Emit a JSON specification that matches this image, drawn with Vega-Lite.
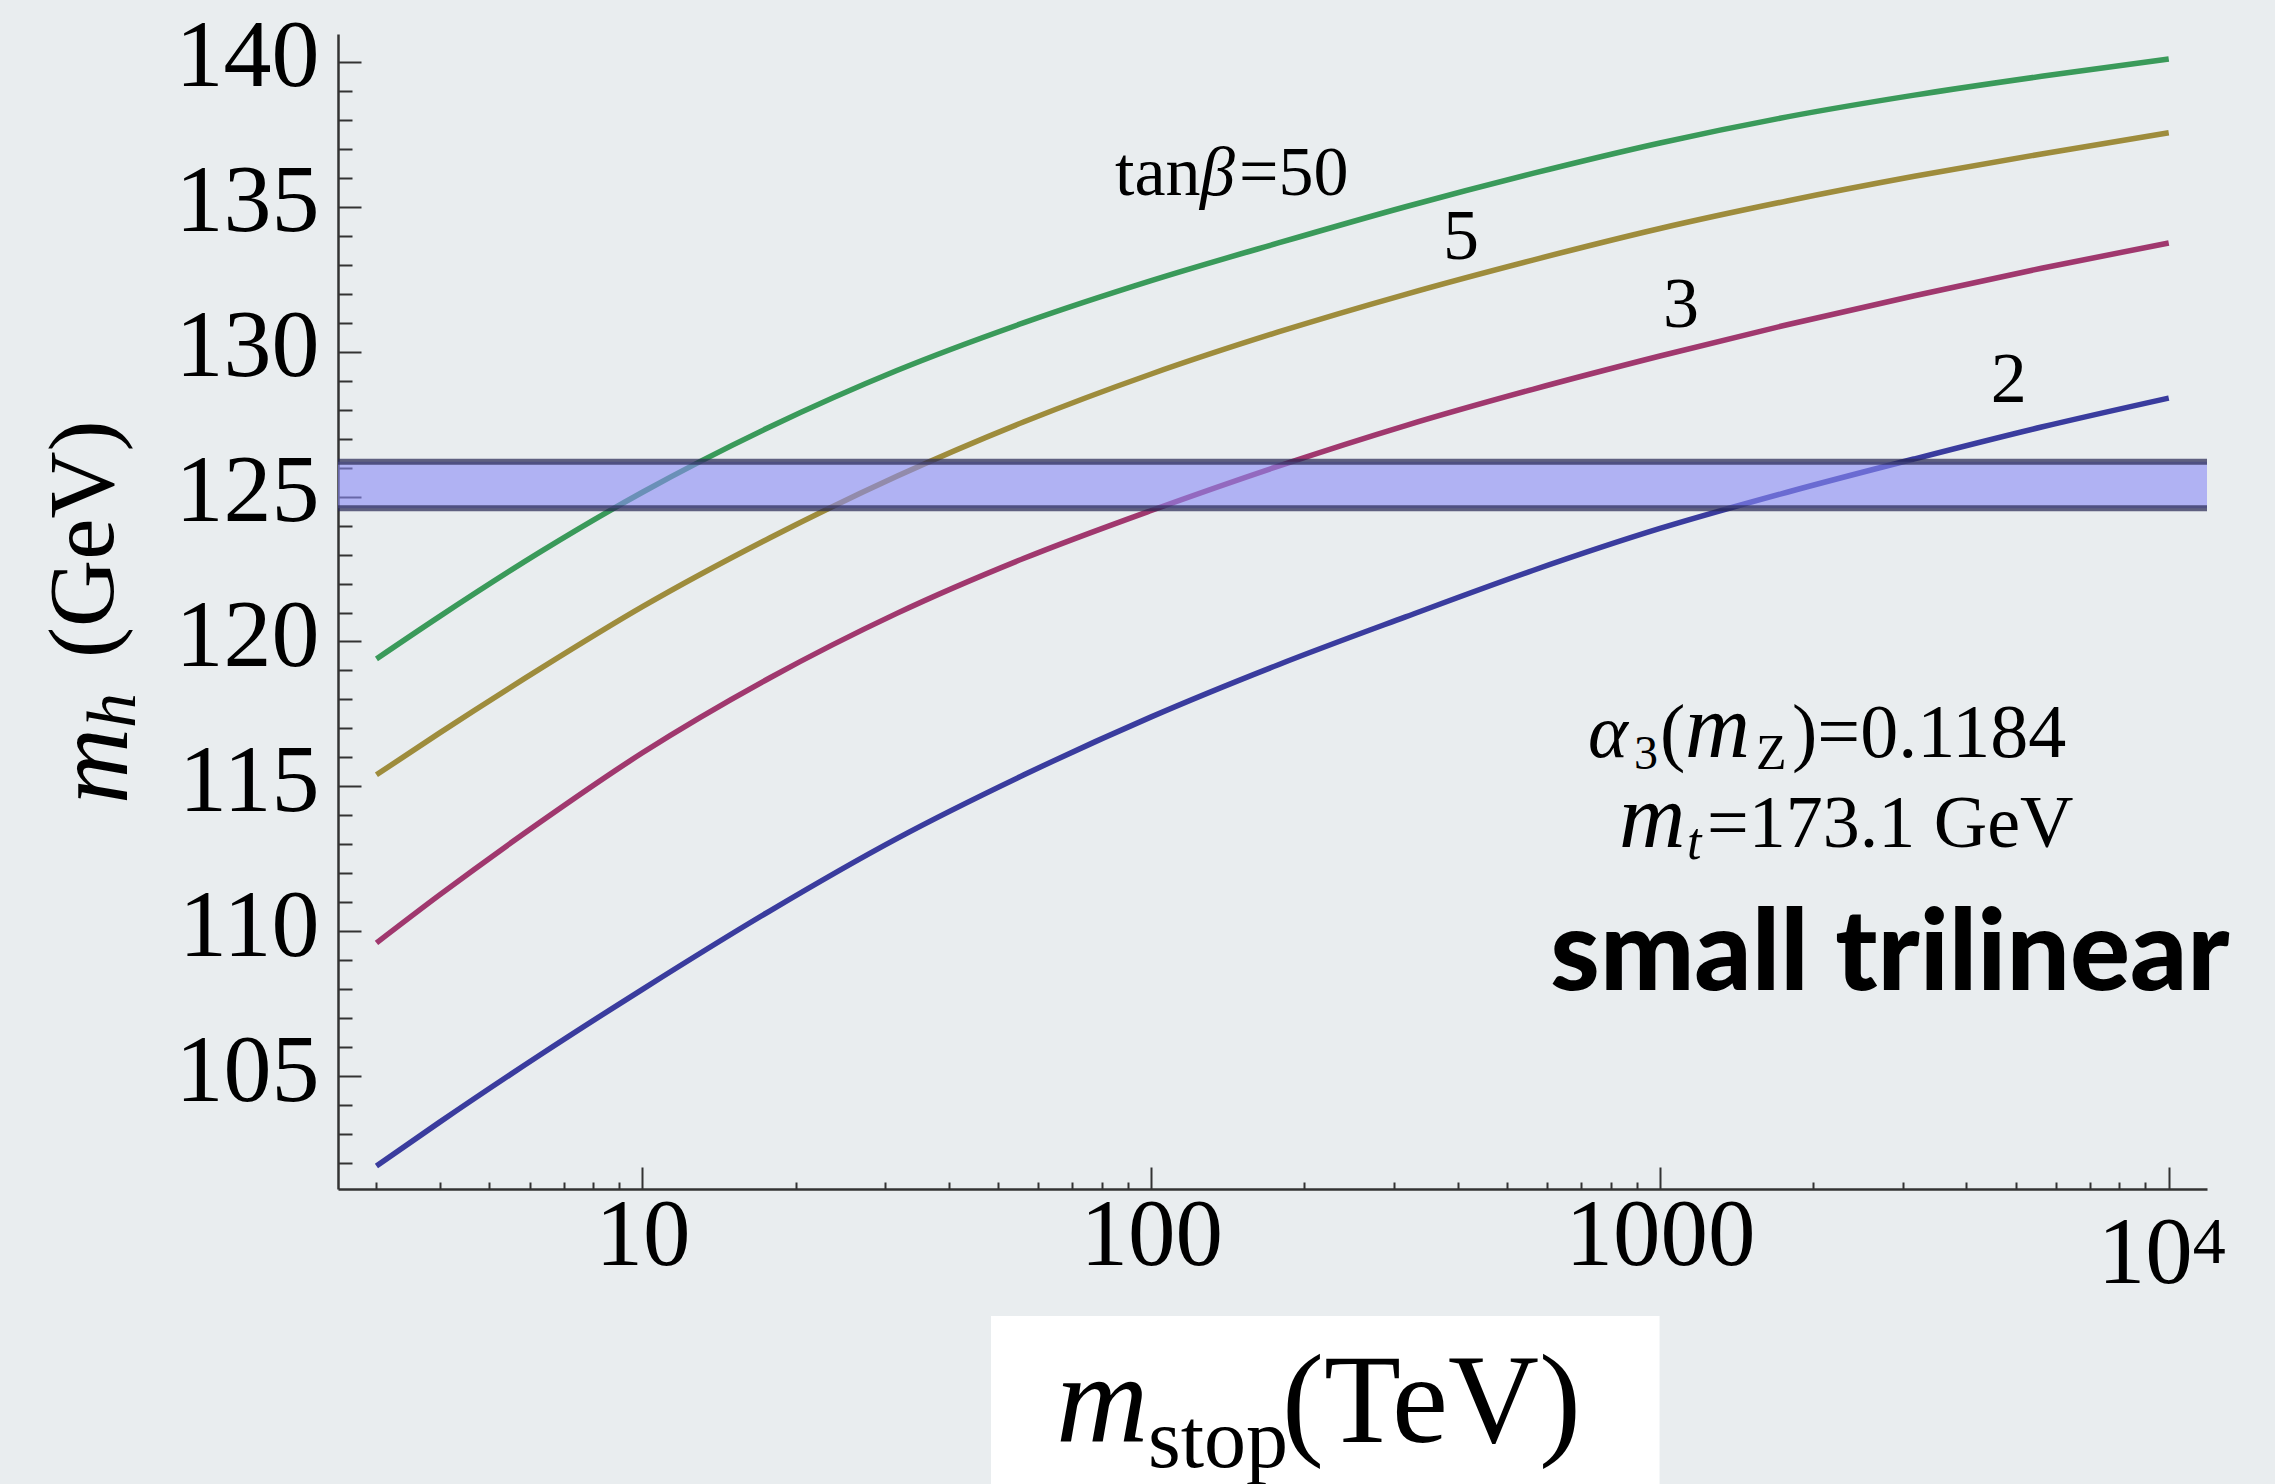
{
  "$schema": "https://vega.github.io/schema/vega-lite/v6.json",
  "width": 1869,
  "height": 1155,
  "autosize": {"type": "none"},
  "padding": {"left": 338, "top": 34, "right": 68, "bottom": 295},
  "background": "#e9edef",
  "config": {
    "view": {"stroke": null},
    "text": {"font": "Liberation Serif", "color": "black", "align": "left", "baseline": "alphabetic"}
  },
  "datasets": {
    "curves": [
      {"tb": "50", "ms": 3, "mh": 119.4},
      {"tb": "50", "ms": 3.981, "mh": 120.85},
      {"tb": "50", "ms": 6.31, "mh": 123.1},
      {"tb": "50", "ms": 10, "mh": 125.15},
      {"tb": "50", "ms": 17.78, "mh": 127.4},
      {"tb": "50", "ms": 31.62, "mh": 129.35},
      {"tb": "50", "ms": 56.23, "mh": 131.0},
      {"tb": "50", "ms": 100, "mh": 132.45},
      {"tb": "50", "ms": 177.8, "mh": 133.75},
      {"tb": "50", "ms": 316.2, "mh": 135.0},
      {"tb": "50", "ms": 562.3, "mh": 136.15},
      {"tb": "50", "ms": 1000, "mh": 137.2},
      {"tb": "50", "ms": 1778, "mh": 138.1},
      {"tb": "50", "ms": 3162, "mh": 138.85},
      {"tb": "50", "ms": 5623, "mh": 139.5},
      {"tb": "50", "ms": 10000, "mh": 140.1},
      {"tb": "5", "ms": 3, "mh": 115.4},
      {"tb": "5", "ms": 3.981, "mh": 116.83},
      {"tb": "5", "ms": 6.31, "mh": 119.07},
      {"tb": "5", "ms": 10, "mh": 121.2},
      {"tb": "5", "ms": 17.78, "mh": 123.57},
      {"tb": "5", "ms": 31.62, "mh": 125.7},
      {"tb": "5", "ms": 56.23, "mh": 127.58},
      {"tb": "5", "ms": 100, "mh": 129.23},
      {"tb": "5", "ms": 177.8, "mh": 130.68},
      {"tb": "5", "ms": 316.2, "mh": 131.98},
      {"tb": "5", "ms": 562.3, "mh": 133.16},
      {"tb": "5", "ms": 1000, "mh": 134.25},
      {"tb": "5", "ms": 1778, "mh": 135.2},
      {"tb": "5", "ms": 3162, "mh": 136.05},
      {"tb": "5", "ms": 5623, "mh": 136.82},
      {"tb": "5", "ms": 10000, "mh": 137.55},
      {"tb": "3", "ms": 3, "mh": 109.6},
      {"tb": "3", "ms": 3.981, "mh": 111.24},
      {"tb": "3", "ms": 6.31, "mh": 113.78},
      {"tb": "3", "ms": 10, "mh": 116.16},
      {"tb": "3", "ms": 17.78, "mh": 118.74},
      {"tb": "3", "ms": 31.62, "mh": 120.97},
      {"tb": "3", "ms": 56.23, "mh": 122.87},
      {"tb": "3", "ms": 100, "mh": 124.52},
      {"tb": "3", "ms": 177.8, "mh": 126.05},
      {"tb": "3", "ms": 316.2, "mh": 127.45},
      {"tb": "3", "ms": 562.3, "mh": 128.7},
      {"tb": "3", "ms": 1000, "mh": 129.85},
      {"tb": "3", "ms": 1778, "mh": 130.93},
      {"tb": "3", "ms": 3162, "mh": 131.93},
      {"tb": "3", "ms": 5623, "mh": 132.88},
      {"tb": "3", "ms": 10000, "mh": 133.75},
      {"tb": "2", "ms": 3, "mh": 101.9},
      {"tb": "2", "ms": 3.981, "mh": 103.4},
      {"tb": "2", "ms": 6.31, "mh": 105.75},
      {"tb": "2", "ms": 10, "mh": 108.0},
      {"tb": "2", "ms": 17.78, "mh": 110.7},
      {"tb": "2", "ms": 31.62, "mh": 113.2},
      {"tb": "2", "ms": 56.23, "mh": 115.4},
      {"tb": "2", "ms": 100, "mh": 117.4},
      {"tb": "2", "ms": 177.8, "mh": 119.2},
      {"tb": "2", "ms": 316.2, "mh": 120.85},
      {"tb": "2", "ms": 562.3, "mh": 122.45},
      {"tb": "2", "ms": 1000, "mh": 123.9},
      {"tb": "2", "ms": 1778, "mh": 125.15},
      {"tb": "2", "ms": 3162, "mh": 126.3},
      {"tb": "2", "ms": 5623, "mh": 127.4},
      {"tb": "2", "ms": 10000, "mh": 128.4}
    ],
    "band": [{"lo": 124.6, "hi": 126.2}],
    "edges": [{"mh": 124.6}, {"mh": 126.2}]
  },
  "layer": [
    {
      "data": {"values": [{}]},
      "mark": {"type": "rect", "fill": "white"},
      "encoding": {
        "x": {"datum": 48.42, "type": "quantitative", "scale": {"type": "log", "domain": [2.521, 11890], "nice": false}, "axis": {"title": null}},
        "x2": {"datum": 998},
        "y": {"datum": 96.73, "type": "quantitative", "scale": {"domain": [101.11, 140.96], "nice": false, "zero": false}, "axis": {"title": null}},
        "y2": {"datum": 89}
      }
    },
    {
      "data": {"name": "curves"},
      "mark": {"type": "line", "strokeWidth": 5.5, "interpolate": "monotone"},
      "encoding": {
        "x": {
          "field": "ms", "type": "quantitative",
          "scale": {"type": "log", "domain": [2.521, 11890], "nice": false},
          "axis": {
            "title": null, "grid": false, "tickCount": 200,
            "values": [3,4,5,6,7,8,9,10,20,30,40,50,60,70,80,90,100,200,300,400,500,600,700,800,900,1000,2000,3000,4000,5000,6000,7000,8000,9000,10000],
            "domainColor": "#333333", "domainWidth": 2.5, "tickColor": "#333333", "tickWidth": 2,
            "tickSize": {"condition": {"test": "datum.value == 10 || datum.value == 100 || datum.value == 1000 || datum.value == 10000", "value": -22}, "value": -7},
            "labelExpr": "(datum.value == 10 || datum.value == 100 || datum.value == 1000) ? '' + datum.value : datum.value == 10000 ? '10' : ''",
            "labelFont": "Liberation Serif", "labelFontSize": 95, "labelColor": "black", "labelLimit": 0,
            "labelPadding": {"condition": {"test": "datum.value == 10000", "value": 40}, "value": 22},
            "labelOffset": {"condition": {"test": "datum.value == 10000", "value": -24}, "value": 0},
            "labelFlush": false, "labelOverlap": false, "labelBound": false
          }
        },
        "y": {
          "field": "mh", "type": "quantitative",
          "scale": {"domain": [101.11, 140.96], "nice": false, "zero": false},
          "axis": {
            "title": null, "grid": false, "tickCount": 200,
            "values": [102,103,104,105,106,107,108,109,110,111,112,113,114,115,116,117,118,119,120,121,122,123,124,125,126,127,128,129,130,131,132,133,134,135,136,137,138,139,140],
            "domainColor": "#333333", "domainWidth": 2.5, "tickColor": "#333333", "tickWidth": 2,
            "tickSize": {"condition": {"test": "datum.value % 5 == 0", "value": -23}, "value": -14},
            "labelExpr": "datum.value % 5 == 0 ? '' + datum.value : ''",
            "labelFont": "Liberation Serif", "labelFontSize": 96, "labelColor": "black", "labelLimit": 0,
            "labelPadding": 42, "labelOffset": -5,
            "labelFlush": false, "labelOverlap": false, "labelBound": false
          }
        },
        "color": {
          "field": "tb", "type": "nominal",
          "scale": {"domain": ["50", "5", "3", "2"], "range": ["#3a9a5a", "#9e8c3c", "#a0386e", "#3a3c9e"]},
          "legend": null
        }
      }
    },
    {
      "data": {"name": "band"},
      "mark": {"type": "rect", "fill": "#8a8af5", "opacity": 0.6},
      "encoding": {
        "y": {"field": "lo", "type": "quantitative", "scale": {"domain": [101.11, 140.96], "nice": false, "zero": false}, "axis": {"title": null}},
        "y2": {"field": "hi"}
      }
    },
    {
      "data": {"name": "edges"},
      "mark": {"type": "rule", "stroke": "#2a2a55", "strokeWidth": 6, "opacity": 0.72},
      "encoding": {
        "y": {"field": "mh", "type": "quantitative", "scale": {"domain": [101.11, 140.96], "nice": false, "zero": false}, "axis": {"title": null}}
      }
    },
    {
      "data": {"values": [{}]},
      "mark": {"type": "text", "text": "4", "fontSize": 66, "dx": 24},
      "encoding": {
        "x": {"datum": 10000, "type": "quantitative", "scale": {"type": "log", "domain": [2.521, 11890], "nice": false}},
        "y": {"datum": 98.56, "type": "quantitative", "scale": {"domain": [101.11, 140.96], "nice": false, "zero": false}}
      }
    },
    {
      "data": {"values": [{}]},
      "encoding": {
        "x": {"datum": 84.9, "type": "quantitative", "scale": {"type": "log", "domain": [2.521, 11890], "nice": false}},
        "y": {"datum": 135.4, "type": "quantitative", "scale": {"domain": [101.11, 140.96], "nice": false, "zero": false}}
      },
      "layer": [
        {"mark": {"type": "text", "text": "tan", "fontSize": 70}},
        {"mark": {"type": "text", "text": "β", "fontSize": 70, "fontStyle": "italic", "dx": 85}},
        {"mark": {"type": "text", "text": "=50", "fontSize": 70, "dx": 124}}
      ]
    },
    {
      "data": {"values": [{}]},
      "mark": {"type": "text", "text": "5", "fontSize": 72},
      "encoding": {
        "x": {"datum": 374.5, "type": "quantitative", "scale": {"type": "log", "domain": [2.521, 11890], "nice": false}},
        "y": {"datum": 133.19, "type": "quantitative", "scale": {"domain": [101.11, 140.96], "nice": false, "zero": false}}
      }
    },
    {
      "data": {"values": [{}]},
      "mark": {"type": "text", "text": "3", "fontSize": 72},
      "encoding": {
        "x": {"datum": 1013.4, "type": "quantitative", "scale": {"type": "log", "domain": [2.521, 11890], "nice": false}},
        "y": {"datum": 130.85, "type": "quantitative", "scale": {"domain": [101.11, 140.96], "nice": false, "zero": false}}
      }
    },
    {
      "data": {"values": [{}]},
      "mark": {"type": "text", "text": "2", "fontSize": 72},
      "encoding": {
        "x": {"datum": 4469, "type": "quantitative", "scale": {"type": "log", "domain": [2.521, 11890], "nice": false}},
        "y": {"datum": 128.26, "type": "quantitative", "scale": {"domain": [101.11, 140.96], "nice": false, "zero": false}}
      }
    },
    {
      "data": {"values": [{}]},
      "encoding": {
        "x": {"datum": 722, "type": "quantitative", "scale": {"type": "log", "domain": [2.521, 11890], "nice": false}},
        "y": {"datum": 116.03, "type": "quantitative", "scale": {"domain": [101.11, 140.96], "nice": false, "zero": false}}
      },
      "layer": [
        {"mark": {"type": "text", "text": "α", "fontSize": 76, "fontStyle": "italic"}},
        {"mark": {"type": "text", "text": "3", "fontSize": 48, "dx": 46, "dy": 12}},
        {"mark": {"type": "text", "text": "(", "fontSize": 76, "dx": 72}},
        {"mark": {"type": "text", "text": "m", "fontSize": 90, "fontStyle": "italic", "dx": 97}},
        {"mark": {"type": "text", "text": "Z", "fontSize": 50, "dx": 168, "dy": 12}},
        {"mark": {"type": "text", "text": ")=0.1184", "fontSize": 76, "dx": 204}}
      ]
    },
    {
      "data": {"values": [{}]},
      "encoding": {
        "x": {"datum": 830.6, "type": "quantitative", "scale": {"type": "log", "domain": [2.521, 11890], "nice": false}},
        "y": {"datum": 112.92, "type": "quantitative", "scale": {"domain": [101.11, 140.96], "nice": false, "zero": false}}
      },
      "layer": [
        {"mark": {"type": "text", "text": "m", "fontSize": 92, "fontStyle": "italic"}},
        {"mark": {"type": "text", "text": "t", "fontSize": 52, "fontStyle": "italic", "dx": 68, "dy": 12}},
        {"mark": {"type": "text", "text": "=173.1 GeV", "fontSize": 74, "dx": 88}}
      ]
    },
    {
      "data": {"values": [{}]},
      "mark": {"type": "text", "text": "small trilinear", "fontSize": 112, "font": "Lato", "fontWeight": 900, "align": "center"},
      "encoding": {
        "x": {"datum": 2831, "type": "quantitative", "scale": {"type": "log", "domain": [2.521, 11890], "nice": false}},
        "y": {"datum": 107.98, "type": "quantitative", "scale": {"domain": [101.11, 140.96], "nice": false, "zero": false}}
      }
    },
    {
      "data": {"values": [{}]},
      "encoding": {
        "x": {"datum": 64.98, "type": "quantitative", "scale": {"type": "log", "domain": [2.521, 11890], "nice": false}},
        "y": {"datum": 92.39, "type": "quantitative", "scale": {"domain": [101.11, 140.96], "nice": false, "zero": false}}
      },
      "layer": [
        {"mark": {"type": "text", "text": "m", "fontSize": 128, "fontStyle": "italic"}},
        {"mark": {"type": "text", "text": "stop", "fontSize": 84, "dx": 92, "dy": 25}},
        {"mark": {"type": "text", "text": "(TeV)", "fontSize": 126, "dx": 226}}
      ]
    },
    {
      "data": {"values": [{}]},
      "encoding": {
        "x": {"datum": 0.97, "type": "quantitative", "scale": {"type": "log", "domain": [2.521, 11890], "nice": false}},
        "y": {"datum": 114.395, "type": "quantitative", "scale": {"domain": [101.11, 140.96], "nice": false, "zero": false}}
      },
      "layer": [
        {"mark": {"type": "text", "text": "m", "fontSize": 105, "fontStyle": "italic", "angle": 270}},
        {"mark": {"type": "text", "text": "h", "fontSize": 70, "fontStyle": "italic", "angle": 270, "dx": 76, "dy": 8}},
        {"mark": {"type": "text", "text": "(GeV)", "fontSize": 93, "angle": 270, "dx": 146, "dy": -14}}
      ]
    }
  ]
}
